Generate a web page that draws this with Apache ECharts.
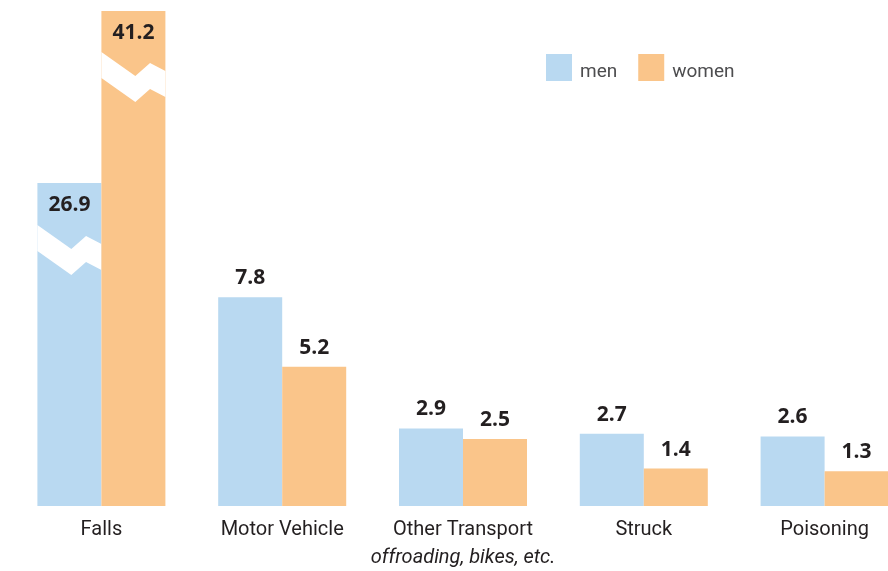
<!DOCTYPE html>
<html>
<head>
<meta charset="utf-8">
<style>
  html, body { margin: 0; padding: 0; background: #ffffff; }
  #chart { width: 888px; height: 571px; }
</style>
<script src="https://cdn.jsdelivr.net/npm/echarts@6/dist/echarts.min.js"></script>
</head>
<body>
<div id="chart"></div>
<script>
// Injury categories and rates
const categories = ['Falls', 'Motor Vehicle', 'Other Transport', 'Struck', 'Poisoning'];
const subtitles = ['', '', 'offroading, bikes, etc.', '', ''];
const men = [26.9, 7.8, 2.9, 2.7, 2.6];
const women = [41.2, 5.2, 2.5, 1.4, 1.3];

// Bars too tall for the axis are cut short with a zigzag break:
// drawnTo = height drawn on the axis scale, cutAt = where the break starts.
const breakStyle = {
  men: { drawnTo: 12.07, cutAt: 10.5 },
  women: { drawnTo: 18.5, cutAt: 16.97 }
};

const COLORS = { men: '#b9d9f1', women: '#fac58a' };
const BAR_SHARE = 0.354;      // bar width as a share of the category band
const BREAK_THICK = 26;       // px thickness of the white break band
// zigzag outline: [fraction of bar width, px drop below the left edge]
const ZIGZAG = [[0, 0], [0.53, 24], [0.76, 11], [1, 19]];

const TEXT_FONT = 'Roboto, "Open Sans", sans-serif';
const labelFont = { fontFamily: '"Open Sans", sans-serif', fontWeight: 'bold', fontSize: 21 };

function makeRender(name, side) {
  const brk = breakStyle[name];
  return function (params, api) {
    const idx = api.value(0);
    const v = api.value(1);
    const band = api.size([1, 0])[0];
    const w = band * BAR_SHARE;
    const base = api.coord([idx, 0]);
    const x0 = side < 0 ? base[0] - w : base[0];
    const broken = v > brk.drawnTo;
    const topVal = broken ? brk.drawnTo : v;
    const top = api.coord([idx, topVal])[1];
    const children = [{
      type: 'rect',
      shape: { x: x0, y: top, width: w, height: base[1] - top },
      style: { fill: COLORS[name] }
    }];
    if (broken) {
      const yCut = api.coord([idx, brk.cutAt])[1];
      const upper = ZIGZAG.map(p => [x0 + p[0] * w, yCut + p[1]]);
      const lower = ZIGZAG.slice().reverse().map(p => [x0 + p[0] * w, yCut + p[1] + BREAK_THICK]);
      children.push({
        type: 'polygon',
        shape: { points: upper.concat(lower) },
        style: { fill: '#ffffff' }
      });
    }
    children.push({
      type: 'text',
      style: Object.assign({
        text: v.toFixed(1),
        x: x0 + w / 2,
        y: broken ? top + 22 : top - 19,
        align: 'center',
        verticalAlign: 'middle',
        fill: '#231f20'
      }, labelFont)
    });
    return { type: 'group', children: children };
  };
}

const chart = echarts.init(document.getElementById('chart'));
chart.setOption({
  animation: false,
  backgroundColor: '#ffffff',
  grid: { left: 11, width: 904, top: 11, bottom: 65, outerBoundsMode: 'none', containLabel: false },
  legend: {
    left: 546,
    top: 54,
    padding: 0,
    itemWidth: 26,
    itemHeight: 27,
    itemGap: 21,
    icon: 'rect',
    data: ['men', 'women'],
    formatter: '{t|{name}}',
    textStyle: {
      fontFamily: TEXT_FONT,
      fontSize: 19,
      color: '#4d4d4f',
      rich: {
        t: { fontFamily: TEXT_FONT, fontSize: 19, color: '#4d4d4f', padding: [9, 0, 0, 3] }
      }
    }
  },
  xAxis: {
    type: 'category',
    data: categories,
    axisLine: { show: false },
    axisTick: { show: false },
    axisLabel: {
      margin: 10,
      interval: 0,
      formatter: function (val, i) {
        return subtitles[i] ? '{a|' + val + '}\n{b|' + subtitles[i] + '}' : '{a|' + val + '}';
      },
      rich: {
        a: { fontFamily: TEXT_FONT, fontSize: 20, lineHeight: 28, color: '#231f20' },
        b: { fontFamily: TEXT_FONT, fontStyle: 'italic', fontSize: 20, lineHeight: 28, color: '#231f20' }
      }
    }
  },
  yAxis: {
    type: 'value',
    min: 0,
    max: 18.5,
    show: false,
    splitLine: { show: false }
  },
  series: [
    {
      name: 'men',
      type: 'custom',
      itemStyle: { color: COLORS.men },
      renderItem: makeRender('men', -1),
      data: men.map((v, i) => [i, v])
    },
    {
      name: 'women',
      type: 'custom',
      itemStyle: { color: COLORS.women },
      renderItem: makeRender('women', 1),
      data: women.map((v, i) => [i, v])
    }
  ]
});
</script>
</body>
</html>
